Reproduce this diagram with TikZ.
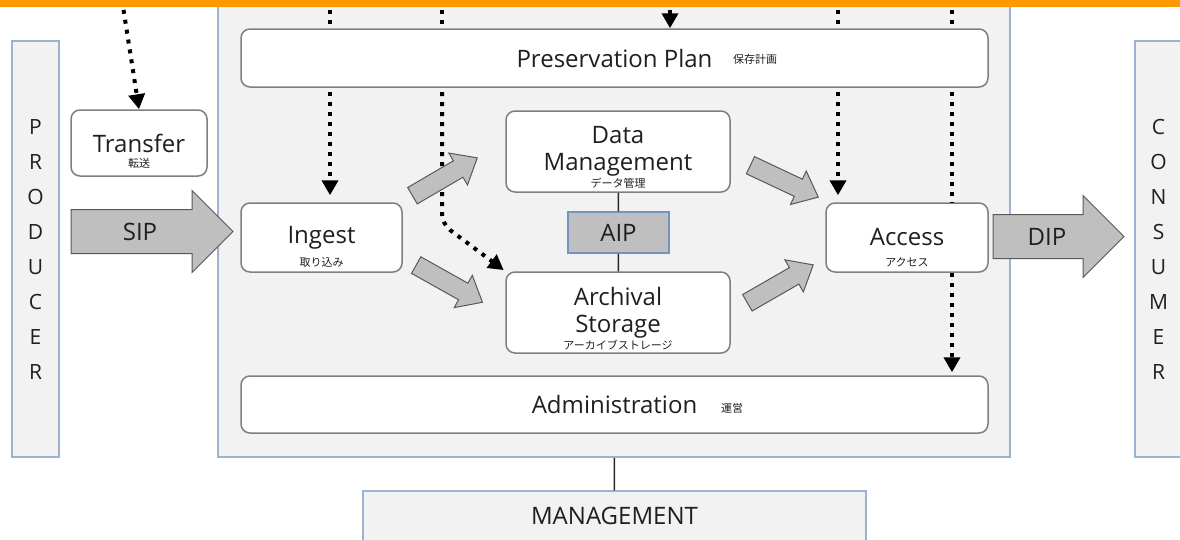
\documentclass[tikz,border=0pt]{standalone}
\usepackage{fontspec}
\setmainfont{Open Sans}
\newfontfamily\jpfont{Noto Sans CJK JP}
\usetikzlibrary{positioning, arrows.meta, shapes.arrows}

\definecolor{panelfill}{HTML}{F2F2F2}
\definecolor{panelline}{HTML}{9DB2D0}
\definecolor{boxline}{HTML}{7F7F7F}
\definecolor{arrowfill}{HTML}{BFBFBF}
\definecolor{arrowline}{HTML}{595959}
\definecolor{aipline}{HTML}{7393C4}
\definecolor{topbar}{HTML}{FF9900}
\definecolor{txt}{HTML}{1F1F1F}

\begin{document}
\begin{tikzpicture}[x=1pt, y=-1pt,
	font=\fontsize{24}{27}\selectfont, text=txt,
	panel/.style={draw=panelline, fill=panelfill, line width=1.5pt, inner sep=0pt},
	func/.style={draw=boxline, fill=white, line width=1.5pt, rounded corners=9pt, align=center, inner sep=0pt},
	aipbox/.style={draw=aipline, fill=arrowfill, line width=1.5pt, inner sep=0pt},
	sub/.style={font=\jpfont\fontsize{11}{12}\selectfont, inner sep=0pt},
	letters/.style={align=center, font=\fontsize{21}{35}\selectfont},
	pkg/.style={single arrow, draw=arrowline, fill=arrowfill, line width=1pt, inner xsep=0pt, inner ysep=21.5pt, single arrow head extend=19pt, minimum width=81pt},
	flow/.style={single arrow, draw=arrowline, fill=arrowfill, line width=1pt, inner xsep=0pt, inner ysep=9pt, single arrow head extend=9pt, single arrow tip angle=80, minimum width=36pt},
	dots/.style={draw=black, line width=4pt, dash pattern=on 4pt off 6pt},
	ctrl/.style={dots, -{Triangle[width=16pt, length=15pt]}},
	link/.style={draw=black!85, line width=1.5pt}]

	\useasboundingbox (0,0) rectangle (1180,539);
	\fill [white] (0,0) rectangle (1180,539);

	% entities around the archive
	\node [panel, letters, minimum width=47pt, minimum height=416pt] (producer) at (35.5,249) {P\\R\\O\\D\\U\\C\\E\\R};
	\node [panel, letters, minimum width=47pt, minimum height=416pt] (consumer) at (1158.5,249) {C\\O\\N\\S\\U\\M\\E\\R};
	\node [panel, minimum width=503pt, minimum height=50pt] (management) at (614.5,516) {MANAGEMENT};
	\node [panel, minimum width=792pt, minimum height=472pt] (archive) at (614,221) {};

	% functional entities
	\node [func, minimum width=747pt, minimum height=58pt] (plan) at (614.5,58) {Preservation Plan};
	\node [func, minimum width=136pt, minimum height=66pt] (transfer) at (139,143) {Transfer};
	\node [func, minimum width=161pt, minimum height=69pt] (ingest) at (321.5,237.5) {Ingest};
	\node [func, minimum width=224pt, minimum height=81pt] (datamgmt) at (618,151.5) {Data\\Management};
	\node [func, minimum width=224pt, minimum height=81pt] (storage) at (618,312.5) {Archival\\Storage};
	\node [func, minimum width=162pt, minimum height=69pt] (access) at (907,237.5) {Access};
	\node [func, minimum width=747pt, minimum height=57pt] (admin) at (614.5,404.5) {Administration};
	\node [aipbox, minimum width=101pt, minimum height=41pt] (aip) at (618.5,232.5) {AIP};

	\draw [link] (datamgmt) -- (aip);
	\draw [link] (aip) -- (storage);
	\draw [link] (archive) -- (management);

	% japanese captions
	\node [sub] (planjp) at (755,59) {保存計画};
	\node [sub] (transferjp) at (139,163) {転送};
	\node [sub] (ingestjp) at (321.5,262.5) {取り込み};
	\node [sub] (datamgmtjp) at (618,183) {データ管理};
	\node [sub] (storagejp) at (618,344.5) {アーカイブストレージ};
	\node [sub] (accessjp) at (907,262) {アクセス};
	\node [sub] (adminjp) at (732,408) {運営};

	% packages
	\node [pkg, minimum height=162pt] (sip) at (141,231.5) {};
	\node [pkg, minimum height=131pt] (dip) at (1047.5,236.5) {};
	\node (siptext) at (140,231.5) {SIP};
	\node (diptext) at (1047,236.5) {DIP};

	% control flows
	\coordinate (c1) at (122,0);
	\coordinate (c2) at (330,0);
	\coordinate (c3) at (442,0);
	\coordinate (c4) at (670,0);
	\coordinate (c5) at (838,0);
	\coordinate (c6) at (952,0);
	\coordinate (s2) at (330,92);
	\coordinate (s3) at (442,92);
	\coordinate (s5) at (838,92);
	\coordinate (s6) at (952,92);
	\coordinate (bend) at (442,224);

	\draw [ctrl] (c1) -- (transfer.north);
	\draw [dots] (c2) -- (c2 |- plan.north);
	\draw [dots] (c3) -- (c3 |- plan.north);
	\draw [ctrl] (c4) -- (c4 |- plan.north);
	\draw [dots] (c5) -- (c5 |- plan.north);
	\draw [dots] (c6) -- (c6 |- plan.north);
	\draw [ctrl, shorten >=7pt] (s2) -- (s2 |- ingest.north);
	\draw [ctrl, rounded corners=10pt, shorten >=2pt] (s3) -- (bend) -- (storage.north west);
	\draw [ctrl, shorten >=7pt] (s5) -- (s5 |- access.north);
	\draw [dots] (s6) -- (s6 |- access.north);
	\draw [ctrl, shorten >=3pt] (s6 |- access.south) -- (s6 |- admin.north);

	% data flows
	\coordinate (f1) at (412,196);
	\coordinate (f1e) at (477,158);
	\coordinate (f2) at (416,265);
	\coordinate (f2e) at (482,302);
	\coordinate (f3) at (750,165);
	\coordinate (f3e) at (818,197);
	\coordinate (f4) at (747,303);
	\coordinate (f4e) at (813,265);
	\path (f1) -- (f1e) node [flow, pos=0.43, sloped, minimum height=75pt] {};
	\path (f2) -- (f2e) node [flow, pos=0.43, sloped, minimum height=76pt] {};
	\path (f3) -- (f3e) node [flow, pos=0.43, sloped, minimum height=75pt] {};
	\path (f4) -- (f4e) node [flow, pos=0.43, sloped, minimum height=76pt] {};

	\fill [topbar] (0,0) rectangle (1180,6.5);
\end{tikzpicture}
\end{document}
